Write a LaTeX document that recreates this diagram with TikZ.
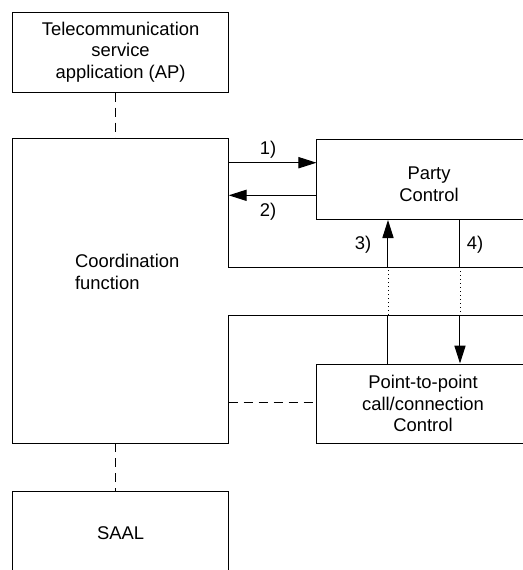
\documentclass[tikz,border=0pt]{standalone}
\usepackage{fontspec}
\setmainfont{Liberation Sans}
\usetikzlibrary{arrows.meta,calc,positioning}

\tikzset{
  box/.style={draw,line width=0.5pt,align=center,inner sep=0pt},
  arr/.style={line width=0.5pt,-{Triangle[length=9pt,width=5.6pt]}},
  dashlink/.style={line width=0.5pt,dash pattern=on 4.5pt off 3pt},
  dotlink/.style={line width=0.4pt,dash pattern=on 0.5pt off 1.5pt},
}

\begin{document}
\begin{tikzpicture}[x=0.5pt,y=-0.5pt,font=\fontsize{9.2}{10.8}\selectfont]
  \useasboundingbox (0,0) rectangle (523,570);
  \clip (0,0) rectangle (523,570);
  % boxes
  \node[box,minimum width=108.1pt,minimum height=40pt] (ap) at (120.6,52)
    {Telecommunication\\service\\application (AP)};
  \node[box,minimum width=112pt,minimum height=40pt] (party) at (429,179.5) {};
  \node[align=center] (partytext) at (429,184) {Party\\Control};
  \node[box,minimum width=106pt,minimum height=39.5pt] (ptp) at (423,403.5)
    {Point-to-point\\call/connection\\Control};
  \node[box,minimum width=108.1pt,minimum height=42pt] (saal) at (120.6,533)
    {SAAL};
  % coordination function
  \draw[line width=0.5pt] (12.5,267.3) -- (12.5,138.5) coordinate (cftop)
    -- (228.7,138.5) -- (228.7,267.3) -- (540,267.3);
  \draw[line width=0.5pt] (540,315) -- (228.7,315) -- (228.7,443.3)
    -- (12.5,443.3) coordinate (cfbot) -- (12.5,267.3);
  \node[anchor=west,align=left] (cf) at (68,272) {Coordination\\function};
  \coordinate (cfin) at (228.7,162.7);
  \coordinate (cfout) at (228.7,195.3);
  \coordinate (cfside) at (228.7,402.7);
  \coordinate (upper) at (0,267.3);
  \coordinate (lower) at (0,315);
  % dashed links
  \draw[dashlink] (ap.south -| 115.7,0) -- (115.7,138.5);
  \draw[dashlink] (115.7,443.3) -- (saal.north -| 115.7,0);
  \draw[dashlink] (cfside) -- (cfside -| ptp.west);
  % primitives
  \draw[arr] (cfin) -- (cfin -| party.west);
  \draw[arr] (cfout -| party.west) -- (cfout);
  \draw[line width=0.5pt] (ptp.north -| 388,0) -- (lower -| 388,0);
  \draw[dotlink] (lower -| 388,0) -- (upper -| 388,0);
  \draw[arr] (upper -| 388,0) -- (party.south -| 388,0);
  \draw[line width=0.5pt] (party.south -| 460,0) -- (upper -| 460,0);
  \draw[dotlink] (upper -| 460,0) -- (lower -| 460,0);
  \draw[arr] (lower -| 460,0) -- (ptp.north -| 460,0);
  \node (l1) at (268,150) {1)};
  \node (l2) at (268,212) {2)};
  \node (l3) at (363,245) {3)};
  \node (l4) at (475,245) {4)};
\end{tikzpicture}
\end{document}
